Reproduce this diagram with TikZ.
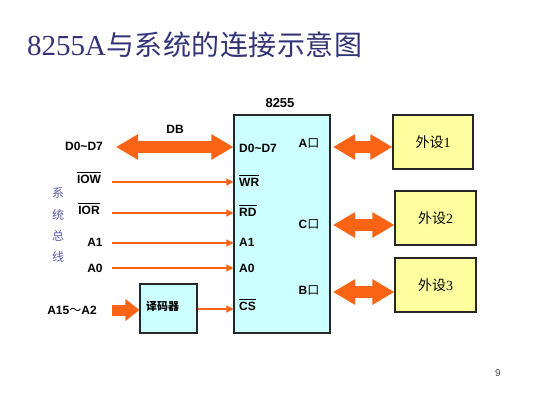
\documentclass[tikz,border=0pt]{standalone}
\usepackage{fontspec}
\setmainfont{Liberation Serif}
\setsansfont{Liberation Sans}
\newfontfamily\cjk{Noto Sans CJK SC}
\usetikzlibrary{arrows.meta}
\definecolor{titleblue}{RGB}{51,51,119}
\definecolor{busblue}{RGB}{90,90,170}
\definecolor{orng}{RGB}{250,100,20}
\definecolor{chipfill}{RGB}{204,255,255}
\definecolor{devfill}{RGB}{255,255,160}
\newcommand{\olbar}[1]{\leavevmode\vbox{\hrule height 0.8pt\kern 2.2pt\hbox{#1}}}
\begin{document}
\begin{tikzpicture}[x=1pt,y=-1pt,
  lbl/.style={font=\sffamily\bfseries\fontsize{12}{13}\selectfont, inner sep=1pt},
  chipbox/.style={draw=black!85, line width=1.1pt, fill=chipfill},
  devbox/.style={draw=black!85, line width=1.1pt, fill=devfill, font=\cjk\fontsize{14}{15}\selectfont},
  decbox/.style={draw=black!85, line width=1.1pt, fill=chipfill},
  thinarrow/.style={draw=orng, line width=1.3pt, -{Triangle[length=7pt,width=7pt]}},
  bigdbl/.style={draw=orng, line width=12pt, {Triangle[length=22pt,width=24pt]}-{Triangle[length=22pt,width=24pt]}},
  bigone/.style={draw=orng, line width=11pt, -{Triangle[length=14pt,width=21pt]}},
  busch/.style={font=\cjk\fontsize{12}{13}\selectfont, text=busblue}]
\useasboundingbox (0,0) rectangle (533,400);
\fill[white] (0,0) rectangle (533,400);

% title
\node[anchor=base west, text=titleblue, inner sep=0pt] (title) at (27,55)
  {\fontsize{29}{30}\selectfont 8255A{\cjk\fontsize{28}{30}\selectfont 与\hspace{0.5pt}系\hspace{0.5pt}统\hspace{0.5pt}的\hspace{0.5pt}连\hspace{0.5pt}接\hspace{0.5pt}示\hspace{0.5pt}意\hspace{0.5pt}图}};

% chip
\node[chipbox, minimum width=96pt, minimum height=218pt, inner sep=0pt] (chip) at (282,224) {};
\node[lbl, font=\sffamily\bfseries\fontsize{13}{14}\selectfont] (chipname) at (280,103) {8255};
\node[lbl, anchor=west] (pD) at (238,148) {D0\textasciitilde D7};
\node[lbl, anchor=west] (pWR) at (238,181) {\olbar{WR}};
\node[lbl, anchor=west] (pRD) at (238,211) {\olbar{RD}};
\node[lbl, anchor=west] (pA1) at (238,242) {A1};
\node[lbl, anchor=west] (pA0) at (238,268) {A0};
\node[lbl, anchor=west] (pCS) at (238,305) {\olbar{CS}};
\node[lbl] (pA) at (309,143) {A{\cjk\mdseries 口}};
\node[lbl] (pC) at (309,224) {C{\cjk\mdseries 口}};
\node[lbl] (pB) at (309,290) {B{\cjk\mdseries 口}};

% left labels
\node[lbl] (lD) at (84,146) {D0\textasciitilde D7};
\node[lbl] (lDB) at (175,129) {DB};
\node[lbl] (lIOW) at (89,178) {\olbar{IOW}};
\node[lbl] (lIOR) at (89,209) {\olbar{IOR}};
\node[lbl] (lA1) at (95,242) {A1};
\node[lbl] (lA0) at (95,268) {A0};
\node[lbl] (lA15) at (72,310) {A15{\cjk\mdseries ～}A2};
\node[busch] (b1) at (58,193) {系};
\node[busch] (b2) at (58,215) {统};
\node[busch] (b3) at (58,236) {总};
\node[busch] (b4) at (58,257) {线};

% decoder
\node[decbox, minimum width=57pt, minimum height=49pt, inner sep=0pt] (dec) at (168.5,308.5) {};
\node[font=\cjk\bfseries\fontsize{11}{12}\selectfont, anchor=west, inner sep=0pt] (dectext) at (146,306) {译码器};

% devices
\node[devbox, minimum width=80pt, minimum height=54pt] (dev1) at (433,142) {外设{\rmfamily 1}};
\node[devbox, minimum width=81pt, minimum height=54pt] (dev2) at (435.5,218) {外设{\rmfamily 2}};
\node[devbox, minimum width=81pt, minimum height=54pt] (dev3) at (435.5,285) {外设{\rmfamily 3}};

% connectors
\coordinate (sD) at (116,147);
\coordinate (sIOW) at (112,182);
\coordinate (sIOR) at (112,213);
\coordinate (sA1) at (112,243);
\coordinate (sA0) at (112,268);
\coordinate (sA15) at (112,310);
\draw[bigdbl] (sD) -- (sD -| chip.west);
\draw[thinarrow] (sIOW) -- (sIOW -| chip.west);
\draw[thinarrow] (sIOR) -- (sIOR -| chip.west);
\draw[thinarrow] (sA1) -- (sA1 -| chip.west);
\draw[thinarrow] (sA0) -- (sA0 -| chip.west);
\draw[bigone] (sA15) -- (sA15 -| dec.west);
\coordinate (dOut) at (dec.east |- 0,309);
\draw[thinarrow] (dOut) -- (dOut -| chip.west);

\coordinate (rA) at (333,147);
\coordinate (rC) at (333,225);
\coordinate (rB) at (333,292);
\draw[bigdbl] (rA) -- (rA -| dev1.west);
\draw[bigdbl] (rC) -- (rC -| dev2.west);
\draw[bigdbl] (rB) -- (rB -| dev3.west);

% page number
\node[font=\sffamily\fontsize{10}{11}\selectfont, text=black!70] (pg) at (498,373) {9};
\end{tikzpicture}
\end{document}
